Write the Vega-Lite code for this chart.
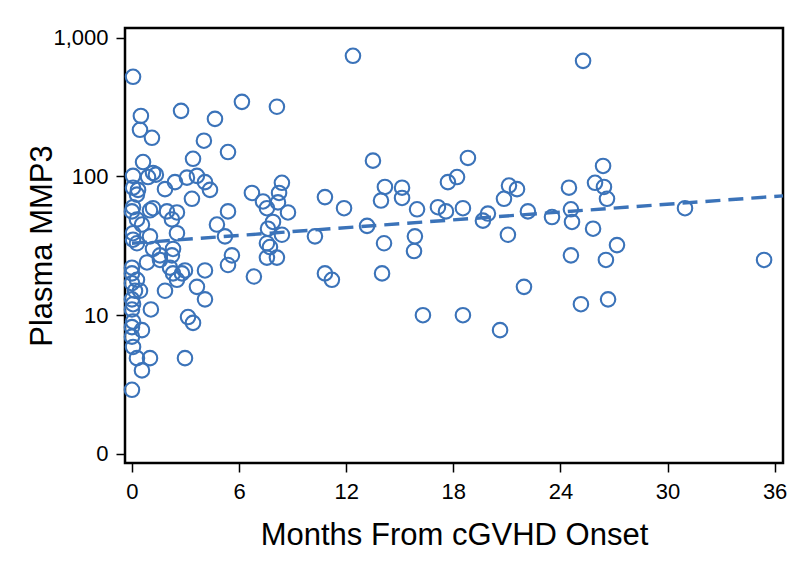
{
  "$schema": "https://vega.github.io/schema/vega-lite/v6.json",
  "width": 658,
  "height": 435,
  "autosize": "none",
  "padding": {"left": 125, "top": 28, "right": 29, "bottom": 107},
  "background": "white",
  "config": {
    "view": {"stroke": "black", "strokeWidth": 2.5},
    "font": "Liberation Sans"
  },
  "datasets": {
    "points": [
      {"month": 0.06, "mmp3": 523}, {"month": 0.50, "mmp3": 273}, {"month": 0.45, "mmp3": 217},
      {"month": 1.12, "mmp3": 190}, {"month": 2.75, "mmp3": 297}, {"month": 4.65, "mmp3": 260},
      {"month": 6.16, "mmp3": 345}, {"month": 8.12, "mmp3": 318}, {"month": 4.03, "mmp3": 181},
      {"month": 5.38, "mmp3": 150}, {"month": 3.42, "mmp3": 134}, {"month": 0.62, "mmp3": 127},
      {"month": 12.38, "mmp3": 741}, {"month": 25.27, "mmp3": 681},
      {"month": 0.06, "mmp3": 101}, {"month": 1.18, "mmp3": 106}, {"month": 1.34, "mmp3": 103},
      {"month": 0.90, "mmp3": 99}, {"month": 1.85, "mmp3": 81}, {"month": 2.41, "mmp3": 91},
      {"month": 3.08, "mmp3": 98}, {"month": 3.64, "mmp3": 101}, {"month": 4.09, "mmp3": 91},
      {"month": 4.37, "mmp3": 80}, {"month": 3.36, "mmp3": 69}, {"month": 0.06, "mmp3": 83},
      {"month": 0.34, "mmp3": 80}, {"month": 0.28, "mmp3": 74}, {"month": 0.06, "mmp3": 60},
      {"month": 1.01, "mmp3": 57}, {"month": 1.18, "mmp3": 59}, {"month": 1.96, "mmp3": 56},
      {"month": 2.52, "mmp3": 55}, {"month": 2.24, "mmp3": 49}, {"month": 0.0, "mmp3": 56},
      {"month": 0.28, "mmp3": 49}, {"month": 0.56, "mmp3": 45}, {"month": 4.76, "mmp3": 45},
      {"month": 0.06, "mmp3": 39}, {"month": 1.01, "mmp3": 37}, {"month": 2.52, "mmp3": 39},
      {"month": 0.06, "mmp3": 35}, {"month": 0.28, "mmp3": 33}, {"month": 1.18, "mmp3": 30},
      {"month": 1.57, "mmp3": 27}, {"month": 2.30, "mmp3": 30}, {"month": 2.24, "mmp3": 27},
      {"month": 4.09, "mmp3": 21}, {"month": 0.0, "mmp3": 22},
      {"month": 6.72, "mmp3": 76}, {"month": 8.40, "mmp3": 90}, {"month": 8.24, "mmp3": 76},
      {"month": 7.34, "mmp3": 66}, {"month": 7.56, "mmp3": 59}, {"month": 8.18, "mmp3": 65},
      {"month": 8.74, "mmp3": 55}, {"month": 5.38, "mmp3": 56}, {"month": 5.21, "mmp3": 37},
      {"month": 7.90, "mmp3": 47}, {"month": 7.62, "mmp3": 42}, {"month": 8.40, "mmp3": 38},
      {"month": 7.56, "mmp3": 33}, {"month": 7.73, "mmp3": 31}, {"month": 5.60, "mmp3": 27},
      {"month": 5.38, "mmp3": 23}, {"month": 7.56, "mmp3": 26}, {"month": 8.12, "mmp3": 26},
      {"month": 6.83, "mmp3": 19},
      {"month": 0.0, "mmp3": 20}, {"month": 0.28, "mmp3": 18}, {"month": 0.0, "mmp3": 17},
      {"month": 0.17, "mmp3": 15}, {"month": 0.45, "mmp3": 15}, {"month": 0.0, "mmp3": 13},
      {"month": 0.06, "mmp3": 12}, {"month": 0.0, "mmp3": 11}, {"month": 0.06, "mmp3": 9.0},
      {"month": 0.0, "mmp3": 8.2}, {"month": 0.56, "mmp3": 7.8}, {"month": 0.0, "mmp3": 7.0},
      {"month": 0.06, "mmp3": 5.9}, {"month": 0.28, "mmp3": 4.9}, {"month": 1.01, "mmp3": 4.9},
      {"month": 0.56, "mmp3": 4.0}, {"month": 0.0, "mmp3": 2.9}, {"month": 1.06, "mmp3": 11},
      {"month": 1.85, "mmp3": 15}, {"month": 2.52, "mmp3": 18}, {"month": 2.80, "mmp3": 20},
      {"month": 2.13, "mmp3": 22}, {"month": 2.97, "mmp3": 21}, {"month": 2.30, "mmp3": 20},
      {"month": 3.64, "mmp3": 16}, {"month": 4.09, "mmp3": 13}, {"month": 3.14, "mmp3": 9.7},
      {"month": 3.42, "mmp3": 8.8}, {"month": 2.97, "mmp3": 4.9}, {"month": 0.84, "mmp3": 24},
      {"month": 1.57, "mmp3": 25},
      {"month": 13.50, "mmp3": 130}, {"month": 14.17, "mmp3": 84}, {"month": 13.95, "mmp3": 67},
      {"month": 15.13, "mmp3": 83}, {"month": 15.13, "mmp3": 70}, {"month": 15.97, "mmp3": 58},
      {"month": 17.14, "mmp3": 60}, {"month": 17.59, "mmp3": 56}, {"month": 17.70, "mmp3": 91},
      {"month": 18.21, "mmp3": 99}, {"month": 18.82, "mmp3": 136}, {"month": 18.54, "mmp3": 59},
      {"month": 19.66, "mmp3": 48}, {"month": 19.94, "mmp3": 54}, {"month": 20.84, "mmp3": 69},
      {"month": 21.12, "mmp3": 86}, {"month": 21.57, "mmp3": 81}, {"month": 22.18, "mmp3": 56},
      {"month": 21.06, "mmp3": 38}, {"month": 13.17, "mmp3": 44}, {"month": 10.25, "mmp3": 37},
      {"month": 10.81, "mmp3": 71}, {"month": 11.88, "mmp3": 59}, {"month": 15.85, "mmp3": 37},
      {"month": 14.12, "mmp3": 33}, {"month": 15.80, "mmp3": 29}, {"month": 10.81, "mmp3": 20},
      {"month": 11.20, "mmp3": 18}, {"month": 14.01, "mmp3": 20}, {"month": 21.96, "mmp3": 16},
      {"month": 16.30, "mmp3": 10}, {"month": 18.54, "mmp3": 10}, {"month": 20.62, "mmp3": 7.8},
      {"month": 26.39, "mmp3": 119}, {"month": 25.94, "mmp3": 90}, {"month": 26.44, "mmp3": 84},
      {"month": 26.61, "mmp3": 69}, {"month": 24.48, "mmp3": 83}, {"month": 24.59, "mmp3": 58},
      {"month": 24.65, "mmp3": 47}, {"month": 23.53, "mmp3": 51}, {"month": 25.83, "mmp3": 42},
      {"month": 30.98, "mmp3": 59}, {"month": 27.17, "mmp3": 32}, {"month": 24.59, "mmp3": 27},
      {"month": 26.55, "mmp3": 25}, {"month": 25.15, "mmp3": 12}, {"month": 26.67, "mmp3": 13},
      {"month": 35.41, "mmp3": 25}
    ],
    "fit": [
      {"month": 0, "mmp3": 33},
      {"month": 36.47, "mmp3": 72.5}
    ]
  },
  "encoding": {
    "x": {
      "field": "month",
      "type": "quantitative",
      "scale": {"domain": [-0.39, 36.47], "nice": false, "zero": false},
      "axis": {
        "values": [0, 6, 12, 18, 24, 30, 36],
        "title": "Months From cGVHD Onset",
        "titleFontSize": 31,
        "titleFontWeight": "normal",
        "titleColor": "black",
        "titlePadding": 18,
        "labelFontSize": 22,
        "labelColor": "black",
        "labelPadding": 9,
        "tickSize": 9,
        "tickWidth": 1.5,
        "tickColor": "black",
        "domain": false,
        "grid": false
      }
    },
    "y": {
      "field": "mmp3",
      "type": "quantitative",
      "scale": {"type": "log", "domain": [0.86, 1175], "nice": false},
      "axis": {
        "values": [1, 10, 100, 1000],
        "labelExpr": "datum.value == 1 ? '0' : format(datum.value, ',')",
        "title": "Plasma MMP3",
        "titleFontSize": 31,
        "titleFontWeight": "normal",
        "titleColor": "black",
        "titlePadding": -6,
        "labelFontSize": 22,
        "labelColor": "black",
        "labelPadding": 8,
        "tickSize": 9,
        "tickWidth": 1.5,
        "tickColor": "black",
        "domain": false,
        "grid": false
      }
    }
  },
  "layer": [
    {
      "data": {"name": "points"},
      "mark": {"type": "point", "shape": "circle", "filled": false, "size": 210, "strokeWidth": 2.1, "color": "#3b73b9", "opacity": 1}
    },
    {
      "data": {"name": "fit"},
      "mark": {"type": "line", "strokeDash": [15, 8], "strokeWidth": 3.4, "color": "#3b73b9"}
    }
  ]
}
